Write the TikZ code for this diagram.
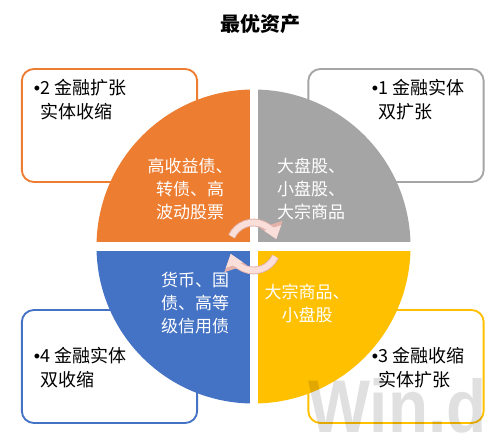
\documentclass[tikz,border=0pt]{standalone}
\usepackage{fontspec}
\setmainfont{Noto Sans CJK SC}
\newfontfamily\wmfont{Liberation Sans}
\usetikzlibrary{arrows.meta}
\definecolor{qorange}{HTML}{ED7D31}
\definecolor{qgray}{HTML}{A5A5A5}
\definecolor{qyellow}{HTML}{FFC000}
\definecolor{qblue}{HTML}{4472C4}
\definecolor{cycfill}{HTML}{F9DEDA}
\definecolor{cycline}{HTML}{E2B2AB}

\begin{document}
\begin{tikzpicture}[
  x=0.75pt, y=-0.75pt,
  corner/.style={draw, rounded corners=9pt, line width=1.4pt, minimum width=131.5pt, minimum height=84.75pt, inner sep=0pt},
  note/.style={anchor=west, align=left, inner sep=0pt, font=\fontsize{13.5pt}{18pt}\selectfont},
  quad/.style={align=center, inner sep=0pt, text=white, font=\fontsize{12.75pt}{17pt}\selectfont},
  cyc/.style={draw=cycfill, line width=4.4pt, -{Triangle[length=0pt 2, width=0pt 2.9]}, preaction={draw=cycline, line width=5.8pt}}
]
\useasboundingbox (0,0) rectangle (500,440);

\node[font=\fontsize{15pt}{18pt}\selectfont\bfseries] (title) at (260,24) {最优资产};

% corner boxes
\node[corner, draw=qorange] (boxTL) at (109.5,125.5) {};
\node[corner, draw=qgray]   (boxTR) at (396,125.5)   {};
\node[corner, draw=qblue]   (boxBL) at (109.5,366.5) {};
\node[corner, draw=qyellow] (boxBR) at (396,366.5)   {};

\node[note] (noteTL) at (40,100)  {\llap{\wmfont•}2 金融扩张\\实体收缩};
\node[note] (noteTR) at (378,100) {\llap{\wmfont•}1 金融实体\\双扩张};
\node[note] (noteBL) at (40,368)  {\llap{\wmfont•}4 金融实体\\双收缩};
\node[note] (noteBR) at (378,368) {\llap{\wmfont•}3 金融收缩\\实体扩张};

% the four quadrants
\coordinate (o) at (253.5,246.5);
\fill[qgray]   (o) -- ++(0:117.75pt)   arc[start angle=0,   end angle=90,  radius=117.75pt] -- cycle;
\fill[qorange] (o) -- ++(90:117.75pt)  arc[start angle=90,  end angle=180, radius=117.75pt] -- cycle;
\fill[qblue]   (o) -- ++(180:117.75pt) arc[start angle=180, end angle=270, radius=117.75pt] -- cycle;
\fill[qyellow] (o) -- ++(270:117.75pt) arc[start angle=270, end angle=360, radius=117.75pt] -- cycle;
\draw[white, line width=6.4pt] (94,246.5) -- (413,246.5);
\draw[white, line width=6pt] (253.5,87) -- (253.5,406);

\node[quad] (qTL) at (190,189) {高收益债、\\转债、高\\波动股票};
\node[quad] (qTR) at (311,189) {大盘股、\\小盘股、\\大宗商品};
\node[quad] (qBL) at (195,303) {货币、国\\债、高等\\级信用债};
\node[quad] (qBR) at (307,303.5) {大宗商品、\\小盘股};

% cycle arrows
\coordinate (c1) at (231.7,236.4);
\coordinate (c2) at (275.3,256.6);
\draw[cyc] (c1) arc[start angle=155, end angle=18, radius=18pt];
\draw[cyc] (c2) arc[start angle=-25, end angle=-162, radius=18pt];

\node[anchor=base west, inner sep=0pt, text=black, opacity=0.12, font=\wmfont\bfseries\fontsize{56pt}{60pt}\selectfont] (wm) at (308,432) {\scalebox{0.88}[1]{Win.d}};
\end{tikzpicture}
\end{document}
